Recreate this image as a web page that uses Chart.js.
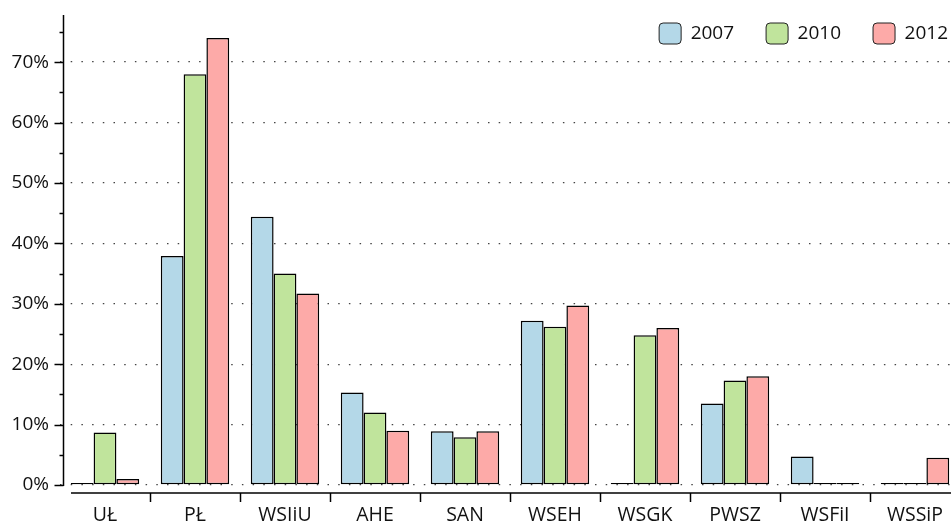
<!DOCTYPE html>
<html>
<head>
<meta charset="utf-8">
<script src="https://cdn.jsdelivr.net/npm/chart.js@4"></script>
<style>
  html, body { margin: 0; padding: 0; overflow: hidden; background: #fff; }
  #wrap { position: absolute; left: 0; top: 0; }
</style>
</head>
<body>
<div id="wrap"><canvas id="chart" width="960" height="523"></canvas></div>
<script>
var categories = ["UŁ", "PŁ", "WSIiU", "AHE", "SAN", "WSEH", "WSGK", "PWSZ", "WSFiI", "WSSiP"];
var seriesNames = ["2007", "2010", "2012"];
var values2007 = [0, 37.9, 44.4, 15.3, 8.9, 27.2, 0, 13.5, 4.7, 0];
var values2010 = [8.7, 68.0, 35.0, 12.0, 7.9, 26.2, 24.8, 17.3, 0, 0];
var values2012 = [1.0, 74.0, 31.7, 9.0, 8.9, 29.7, 26.0, 18.0, 0, 4.5];
var colors = ["rgb(180,216,232)", "rgb(192,228,156)", "rgb(253,170,168)"];

var FONT = "'Open Sans', sans-serif";

// axis lines and tick marks drawn like the original (detached x axis)
var axisDeco = {
    id: 'axisDeco',
    afterInit: function(chart) {
        // legend floats over the plot, takes no room in the layout
        var lg = chart.legend;
        var fit = lg.fit;
        lg.fit = function() { fit.call(this); this.height = 0; };
    },
    afterLayout: function(chart) {
        var lg = chart.legend;
        lg.left = 0;
        lg.right = 980;
        lg.top = -9;
        lg.bottom = 80;
        lg.width = lg.right - lg.left;
        lg.height = lg.bottom - lg.top;
    },
    afterDraw: function(chart) {
        var ctx = chart.ctx;
        var area = chart.chartArea;
        var x = chart.scales.x;
        var y = chart.scales.y;
        var y0 = y.getPixelForValue(0);
        ctx.save();
        ctx.strokeStyle = '#000';
        ctx.lineWidth = 1.5;
        // y axis line
        ctx.beginPath();
        ctx.moveTo(area.left + 3.5, area.top);
        ctx.lineTo(area.left + 3.5, y0 + 1);
        ctx.stroke();
        // y ticks
        y.ticks.forEach(function(t) {
            var py = Math.round(y.getPixelForValue(t.value)) + 0.5;
            var len = (t.value % 10 === 0) ? 9 : 4;
            ctx.beginPath();
            ctx.moveTo(area.left + 3.5 - len, py);
            ctx.lineTo(area.left + 3.5, py);
            ctx.stroke();
        });
        // x axis line
        var xl = y0 + 8;
        ctx.beginPath();
        ctx.moveTo(area.left + 11, xl);
        ctx.lineTo(area.right, xl);
        ctx.stroke();
        // x ticks between categories
        var half = (x.getPixelForValue(1) - x.getPixelForValue(0)) / 2;
        for (var i = 1; i < categories.length; i++) {
            var px = Math.round(x.getPixelForValue(i) - half) + 0.5;
            ctx.beginPath();
            ctx.moveTo(px, xl);
            ctx.lineTo(px, xl + 9);
            ctx.stroke();
        }
        ctx.restore();
    }
};

function makeSet(name, data, color) {
    return {
        label: name,
        data: data,
        backgroundColor: color,
        borderColor: '#000',
        borderWidth: 1.5,
        borderSkipped: false,
        minBarLength: 2
    };
}

var chart = new Chart(document.getElementById('chart'), {
    type: 'bar',
    data: {
        labels: categories,
        datasets: [
            makeSet(seriesNames[0], values2007, colors[0]),
            makeSet(seriesNames[1], values2010, colors[1]),
            makeSet(seriesNames[2], values2012, colors[2])
        ]
    },
    options: {
        responsive: false,
        animation: false,
        categoryPercentage: 0.76,
        barPercentage: 1,
        layout: { padding: { top: 15, right: 0, bottom: 0, left: 0 } },
        plugins: {
            tooltip: { enabled: false },
            legend: {
                position: 'top',
                align: 'end',
                labels: {
                    boxWidth: 22,
                    boxHeight: 21,
                    padding: 32,
                    color: '#111',
                    font: { family: FONT, size: 19 },
                    generateLabels: function(ch) {
                        return ch.data.datasets.map(function(ds, i) {
                            return {
                                text: ds.label,
                                fillStyle: ds.backgroundColor,
                                strokeStyle: '#222',
                                lineWidth: 1,
                                borderRadius: 4,
                                datasetIndex: i,
                                fontColor: '#111'
                            };
                        });
                    }
                }
            }
        },
        scales: {
            x: {
                grid: { display: false, drawTicks: false },
                border: { display: false },
                ticks: {
                    color: '#111',
                    padding: 19,
                    font: { family: FONT, size: 19.5 }
                },
                afterFit: function(s) { s.height = 38; s.paddingLeft = 0; s.paddingRight = 0; }
            },
            y: {
                min: 0,
                max: 77.8,
                grid: {
                    drawTicks: false,
                    lineWidth: 1.3,
                    color: function(c) {
                        return (c.tick && c.tick.value % 10 === 0) ? '#444' : 'rgba(0,0,0,0)';
                    }
                },
                border: { display: false, dash: [1.5, 9.2] },
                afterBuildTicks: function(s) {
                    var t = [];
                    for (var v = 0; v <= 75; v += 5) t.push({ value: v });
                    s.ticks = t;
                },
                ticks: {
                    color: '#111',
                    padding: 11,
                    font: { family: FONT, size: 19 },
                    callback: function(v) { return v % 10 === 0 ? v + '%' : ''; }
                },
                afterFit: function(s) { s.width = 60; s.paddingTop = 0; s.paddingBottom = 0; }
            }
        }
    },
    plugins: [axisDeco]
});
</script>
</body>
</html>
